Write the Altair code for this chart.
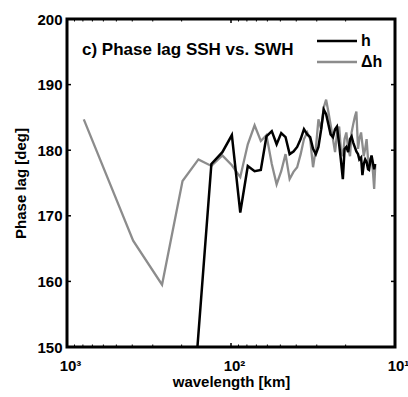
import altair as alt
import pandas as pd

# wavelengths [km]
wavelength = [790, 395, 263.3, 197.5, 158, 131.7, 112.9, 98.8, 87.8, 79,
              71.8, 65.8, 60.8, 56.4, 52.7, 49.4, 46.5, 43.9, 41.6, 39.5,
              37.6, 35.9, 34.3, 32.9, 31.6, 30.4, 29.3, 28.2, 27.2, 26.3,
              25.5, 24.7, 23.9, 23.2, 22.6, 21.9, 21.4, 20.8, 20.3, 19.8,
              19.3, 18.8, 18.4, 18.0, 17.6, 17.2, 16.8, 16.5, 16.1, 15.8,
              15.5, 15.2, 14.9, 14.6, 14.4, 14.1, 13.9, 13.6, 13.4, 13.2]

# phase lag of h [deg]
lag_h = [110, 112, 115, 120, 152, 177.9, 179.7, 182.3, 170.5, 177.6,
         176.8, 177.0, 182.1, 182.9, 180.9, 182.6, 182.0, 179.4, 179.8, 180.5,
         181.7, 183.2, 182.4, 182.0, 180.2, 179.4, 180.5, 183.2, 186.2, 185.5,
         184.0, 182.4, 182.0, 183.2, 183.6, 180.9, 178.6, 175.6, 180.2, 180.5,
         179.7, 181.7, 182.1, 181.2, 180.5, 179.8, 179.4, 178.6, 178.9, 176.2,
         177.9, 178.6, 178.2, 177.1, 177.0, 178.6, 179.2, 177.9, 177.1, 177.9]

# phase lag of delta h [deg]
lag_dh = [184.7, 166.2, 159.5, 175.3, 178.6, 177.6, 179.2, 177.7, 175.9, 180.9,
          183.8, 181.4, 182.3, 177.9, 174.8, 176.8, 179.4, 175.6, 176.7, 177.4,
          179.4, 181.7, 182.7, 181.7, 177.4, 180.2, 184.7, 183.2, 186.5, 187.7,
          185.9, 183.9, 181.7, 179.7, 182.4, 183.6, 180.2, 179.1, 181.7, 182.7,
          180.2, 179.1, 182.7, 183.9, 185.0, 185.9, 180.2, 181.7, 182.7, 180.9,
          179.1, 180.2, 181.7, 178.6, 177.6, 178.6, 179.1, 176.4, 174.1, 177.6]

y_ticks = [150, 160, 170, 180, 190, 200]
x_major = [10, 100, 1000]
x_minor = [20, 30, 40, 50, 60, 70, 80, 90, 200, 300, 400, 500, 600, 700, 800, 900]

FONT = "Liberation Sans"
W, H = 328, 328
BLACK, GRAY = "#000000", "#8c8c8c"

df_h = pd.DataFrame({"wavelength": wavelength, "lag": lag_h})
df_dh = pd.DataFrame({"wavelength": wavelength, "lag": lag_dh})

xscale = alt.Scale(type="log", domain=[10, 1000], reverse=True)
yscale = alt.Scale(domain=[150, 200], nice=False, zero=False)

label_expr = ("datum.value == 1000 ? '10³' : datum.value == 100 ? '10²' : "
              "datum.value == 10 ? '10¹' : ''")

xenc = alt.X("wavelength:Q", scale=xscale,
             axis=alt.Axis(values=x_major, labelExpr=label_expr, title="wavelength [km]",
                           ticks=False, domain=False, grid=False, labelPadding=11,
                           labelOffset=3, labelFlush=False, titlePadding=1))
yenc = alt.Y("lag:Q", scale=yscale,
             axis=alt.Axis(values=y_ticks, title="Phase lag [deg]", ticks=False,
                           domain=False, grid=False, labelPadding=5, titlePadding=8))

line_dh = alt.Chart(df_dh).mark_line(clip=True, strokeWidth=2.3, color=GRAY).encode(x=xenc, y=yenc)
line_h = alt.Chart(df_h).mark_line(clip=True, strokeWidth=2.5, color=BLACK).encode(x=xenc, y=yenc)

ytick_df = pd.DataFrame({"v": y_ticks})
yt_left = alt.Chart(ytick_df).mark_rule(color="black", strokeWidth=1.5).encode(
    y=alt.Y("v:Q", scale=yscale), x=alt.value(0), x2=alt.value(4))
yt_right = alt.Chart(ytick_df).mark_rule(color="black", strokeWidth=1.5).encode(
    y=alt.Y("v:Q", scale=yscale), x=alt.value(W - 4), x2=alt.value(W))

xmaj_df = pd.DataFrame({"w": x_major})
xmin_df = pd.DataFrame({"w": x_minor})
xt_bot = alt.Chart(xmaj_df).mark_rule(color="black", strokeWidth=1.5).encode(
    x=alt.X("w:Q", scale=xscale), y=alt.value(H - 4), y2=alt.value(H))
xt_top = alt.Chart(xmaj_df).mark_rule(color="black", strokeWidth=1.5).encode(
    x=alt.X("w:Q", scale=xscale), y=alt.value(0), y2=alt.value(4))
xm_bot = alt.Chart(xmin_df).mark_rule(color="black", strokeWidth=1).encode(
    x=alt.X("w:Q", scale=xscale), y=alt.value(H - 2.5), y2=alt.value(H))
xm_top = alt.Chart(xmin_df).mark_rule(color="black", strokeWidth=1).encode(
    x=alt.X("w:Q", scale=xscale), y=alt.value(0), y2=alt.value(2.5))

leg_df = pd.DataFrame({"series": ["h", "Δh"], "yy": [22, 43], "c": [BLACK, GRAY]})
leg_lines = alt.Chart(leg_df).mark_rule(strokeWidth=2.5).encode(
    x=alt.value(250), x2=alt.value(290), y=alt.Y("yy:Q", scale=None),
    color=alt.Color("c:N", scale=None))
leg_text = alt.Chart(leg_df).mark_text(align="left", baseline="middle", font=FONT,
                                       fontWeight="bold", fontSize=16, color="black").encode(
    x=alt.value(294), y=alt.Y("yy:Q", scale=None), text="series:N")

title_df = pd.DataFrame({"t": ["c) Phase lag SSH vs. SWH"]})
title_txt = alt.Chart(title_df).mark_text(align="left", baseline="middle", font=FONT,
                                          fontWeight="bold", fontSize=17, color="black").encode(
    x=alt.value(15), y=alt.value(31), text="t:N")

chart = alt.layer(line_dh, line_h, yt_left, yt_right, xt_bot, xt_top, xm_bot, xm_top,
                  leg_lines, leg_text, title_txt).properties(
    width=W, height=H,
    padding={"left": 67, "top": 19, "right": 13, "bottom": 50},
    autosize=alt.AutoSizeParams(type="none"),
    background="white",
).configure_view(
    stroke="black", strokeWidth=3,
).configure_axis(
    labelFont=FONT, labelFontSize=15, labelFontWeight="bold", labelColor="black",
    titleFont=FONT, titleFontSize=15, titleFontWeight="bold", titleColor="black",
)

chart.save("out.html", embed_options={"renderer": "svg", "actions": False})
